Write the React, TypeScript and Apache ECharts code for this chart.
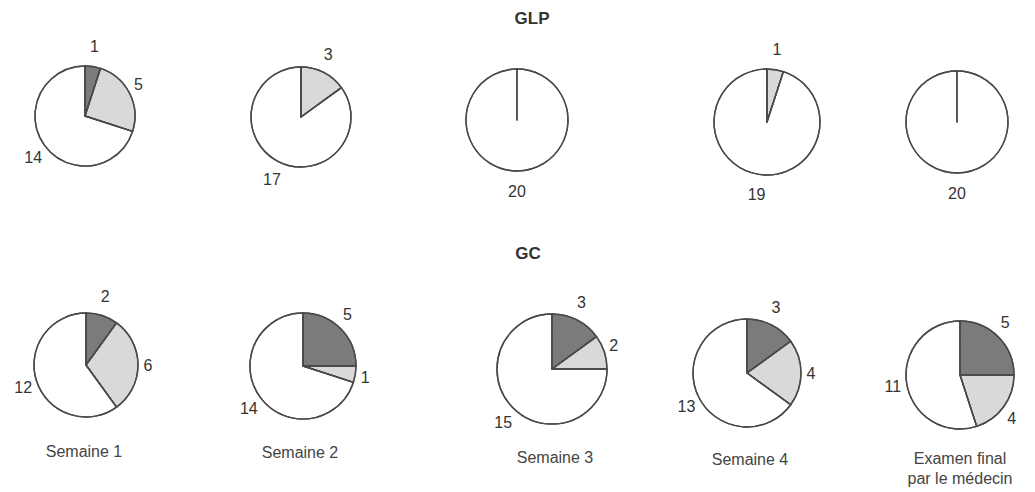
import React, { useEffect, useRef } from "react";
import * as echarts from "echarts";

// ---- data ----
const groupTitles = ["GLP", "GC"];
const periods = ["Semaine 1", "Semaine 2", "Semaine 3", "Semaine 4", "Examen final\npar le médecin"];
const glpDark = [1, 0, 0, 0, 0];
const glpLight = [5, 3, 0, 1, 0];
const glpWhite = [14, 17, 20, 19, 20];
const gcDark = [2, 5, 3, 3, 5];
const gcLight = [6, 1, 2, 4, 4];
const gcWhite = [12, 14, 15, 13, 11];

// ---- layout ----
const topCenters = [[85, 116], [301, 117], [517, 120], [767, 122], [957, 122]];
const topRadii = [50, 50, 51, 53, 51];
const botCenters = [[86, 365], [303, 366], [552, 369], [747, 373], [960, 375]];
const botRadii = [52, 53, 55, 54, 54];
const periodLabelPos = [[84, 451], [300, 452], [555, 457], [750, 459], [960, 458]];
const titlePos = [[532, 18], [528, 253]];

const sliceColors = ["#7b7b7b", "#d9d9d9", "#ffffff"];
const borderColor = "#4a4a4a";
const textColor = "#333333";
const FONT = "'Liberation Sans', Arial, Helvetica, sans-serif";

function makePie(values: number[], center: number[], r: number) {
  const total = values.reduce((a, b) => a + b, 0);
  const cum: number[] = [];
  let acc = 0;
  values.forEach((v) => {
    cum.push(acc);
    acc += v;
  });
  const fills = {
    type: "pie",
    center,
    radius: r,
    startAngle: 90,
    clockwise: true,
    silent: true,
    avoidLabelOverlap: false,
    stillShowZeroSum: true,
    itemStyle: { borderColor, borderWidth: 1.4 },
    emphasis: { disabled: true },
    label: {
      show: true,
      position: "outside",
      formatter: (p: any) => (p.value === 0 ? "" : String(p.value)),
      color: textColor,
      fontFamily: FONT,
      fontSize: 16,
    },
    labelLine: { show: false },
    labelLayout: (params: any) => {
      const i = params.dataIndex;
      const v = values[i];
      const theta = ((cum[i] + v / 2) / total) * Math.PI * 2;
      const extra = (String(v).length - 1) * 4;
      return {
        x: center[0] + (r + 10 + extra) * Math.sin(theta),
        y: center[1] - (r + 20) * Math.cos(theta),
        align: "center",
        verticalAlign: "middle",
      };
    },
    data: values.map((v, i) => ({ value: v, itemStyle: { color: sliceColors[i] } })),
  };
  // outline-only overlay so that slice boundaries (including empty slices) stay visible
  const outlines = {
    type: "pie",
    center,
    radius: r,
    startAngle: 90,
    clockwise: true,
    silent: true,
    stillShowZeroSum: true,
    z: 3,
    itemStyle: { color: "transparent", borderColor, borderWidth: 1.4 },
    emphasis: { disabled: true },
    label: { show: false },
    labelLine: { show: false },
    data: values.map((v) => ({ value: v })),
  };
  return [fills, outlines];
}

export default function App() {
  const ref = useRef<HTMLDivElement>(null);
  useEffect(() => {
    if (!ref.current) return;
    const chart = echarts.init(ref.current, undefined, { renderer: "svg" });
    const series: any[] = [];
    periods.forEach((_, k) => {
      series.push(...makePie([glpDark[k], glpLight[k], glpWhite[k]], topCenters[k], topRadii[k]));
    });
    periods.forEach((_, k) => {
      series.push(...makePie([gcDark[k], gcLight[k], gcWhite[k]], botCenters[k], botRadii[k]));
    });
    const graphics: any[] = [];
    groupTitles.forEach((t, i) => {
      graphics.push({
        type: "text",
        x: titlePos[i][0],
        y: titlePos[i][1],
        style: {
          text: t,
          fill: textColor,
          font: `bold 17px ${FONT}`,
          textAlign: "center",
          textVerticalAlign: "middle",
        },
      });
    });
    periods.forEach((p, i) => {
      graphics.push({
        type: "text",
        x: periodLabelPos[i][0],
        y: periodLabelPos[i][1] - 10,
        style: {
          text: p,
          fill: "#444444",
          font: `16px ${FONT}`,
          textAlign: "center",
          textVerticalAlign: "top",
          lineHeight: 20,
        },
      });
    });
    chart.setOption({
      animation: false,
      backgroundColor: "#ffffff",
      series,
      graphic: graphics,
    });
    return () => chart.dispose();
  }, []);
  return (
    <div
      ref={ref}
      style={{ position: "fixed", left: 0, top: 0, width: 1035, height: 492 }}
    />
  );
}
